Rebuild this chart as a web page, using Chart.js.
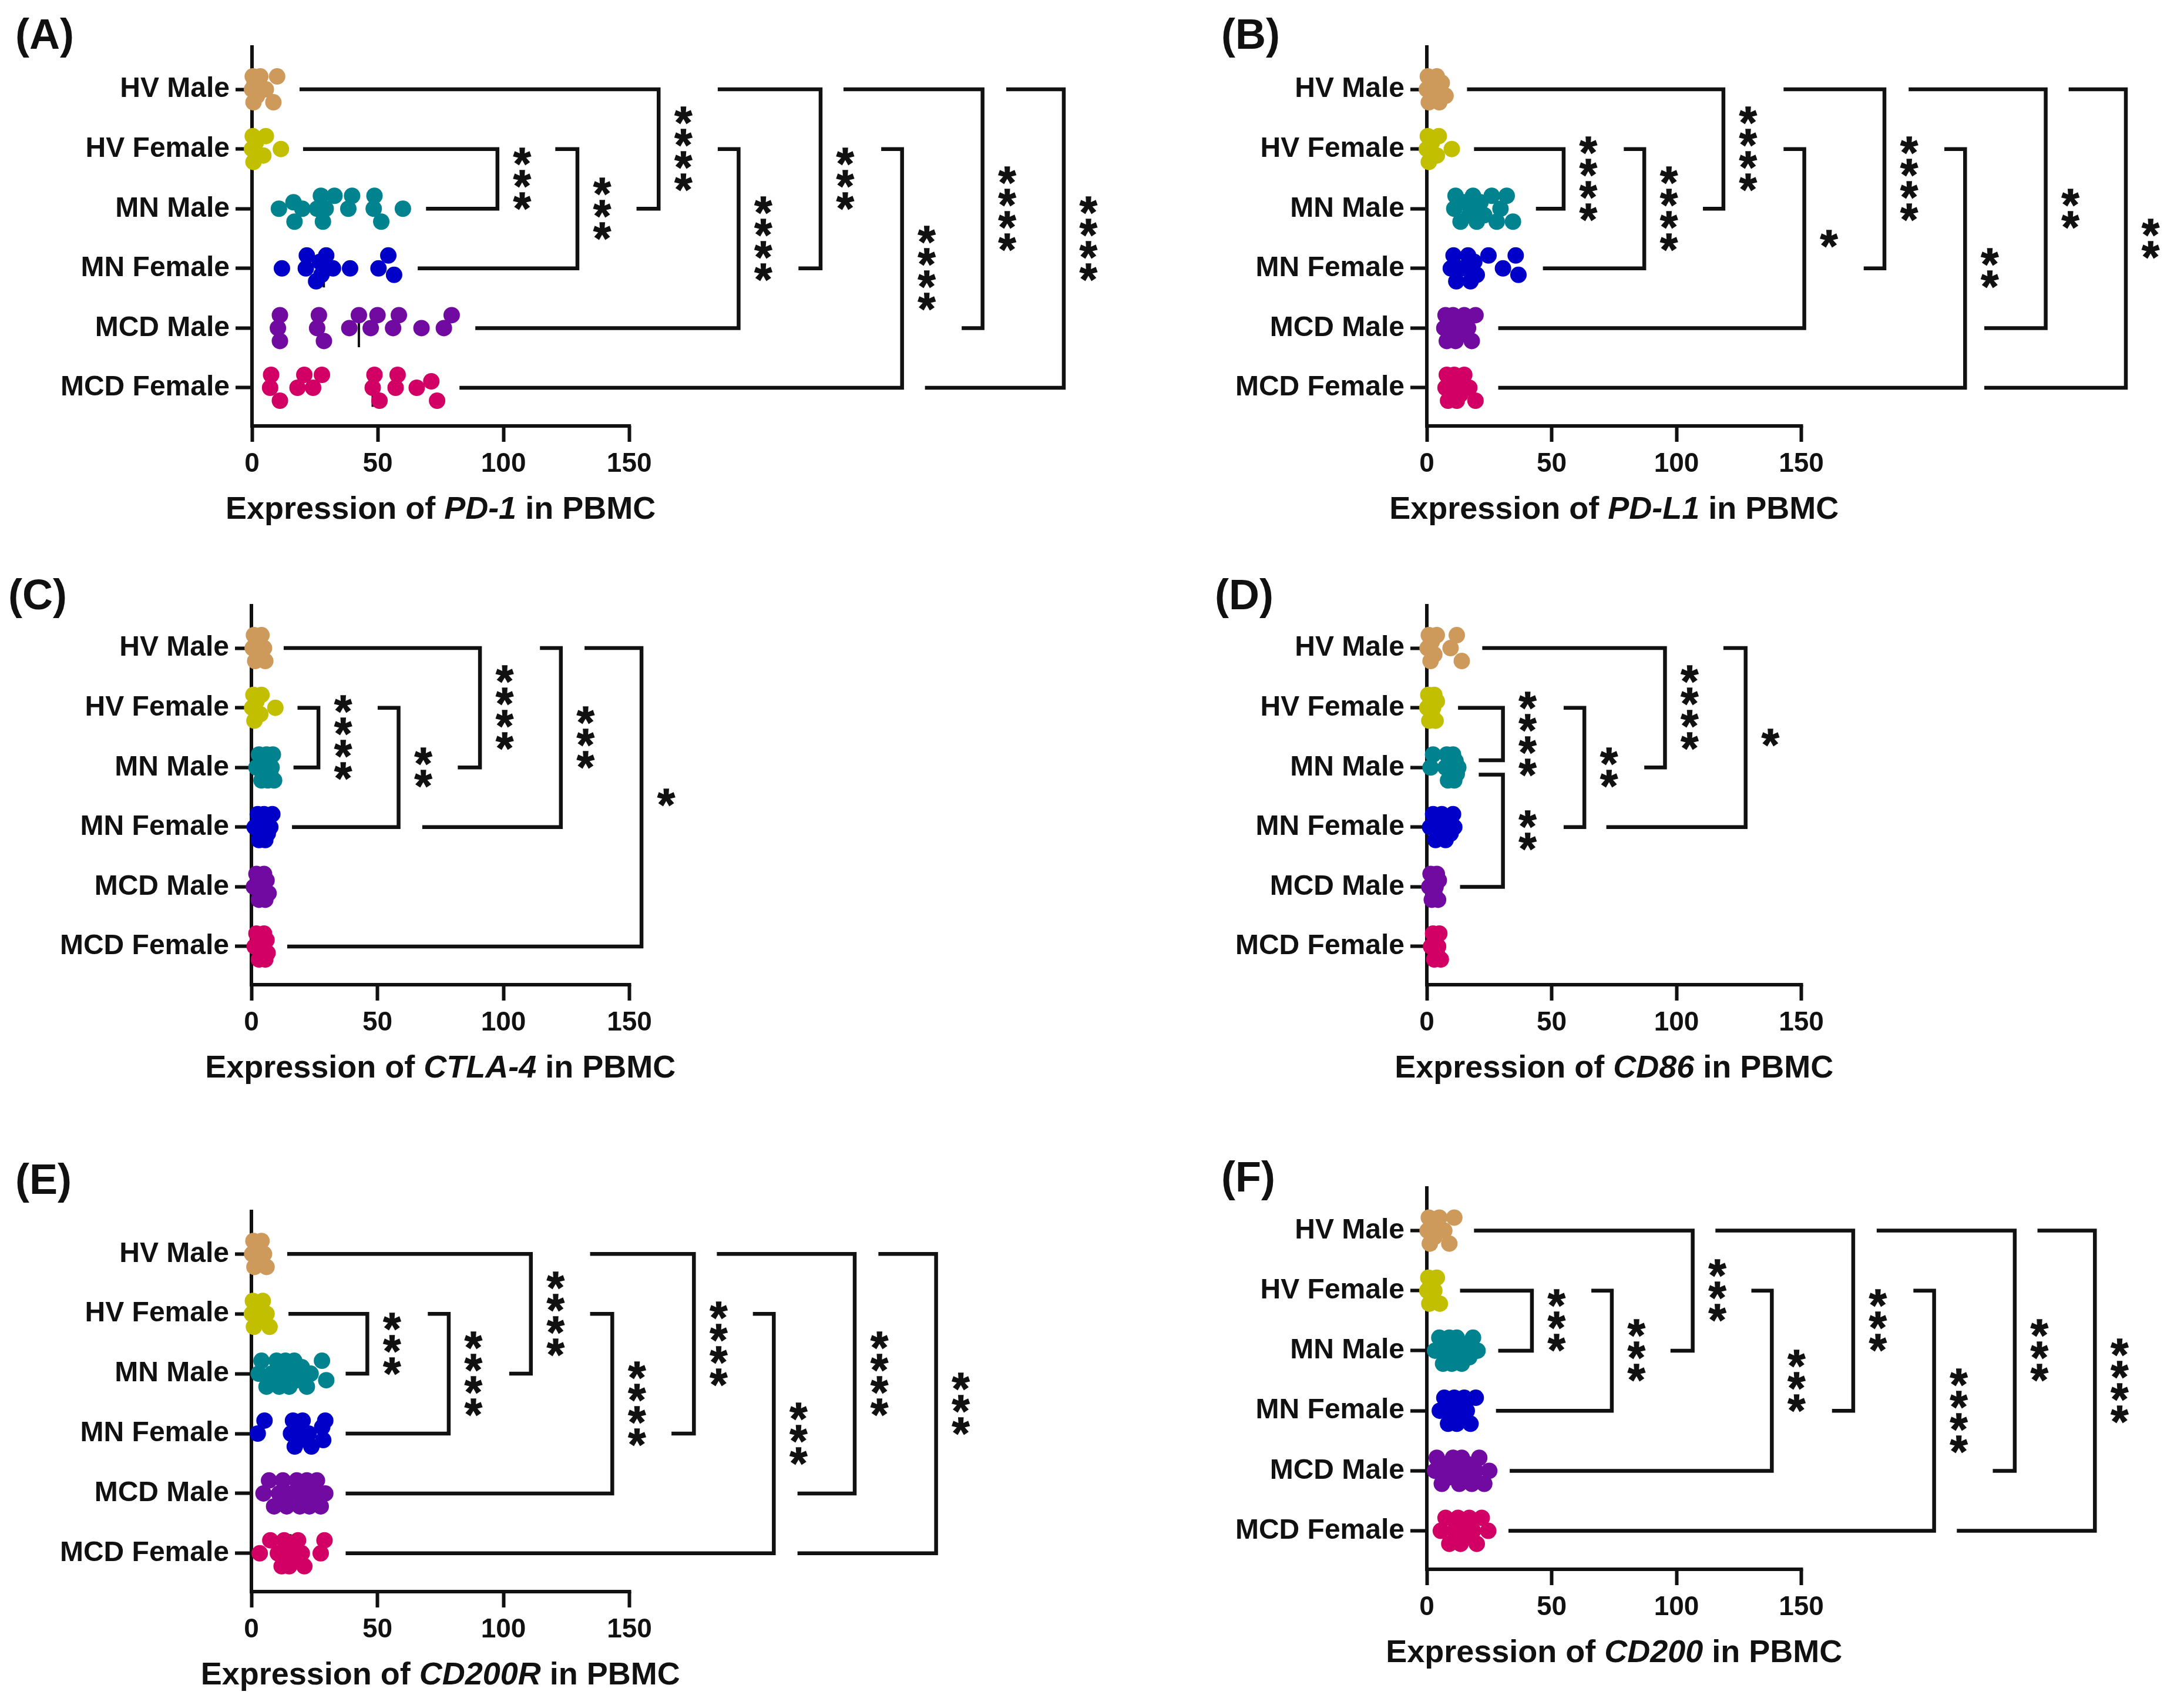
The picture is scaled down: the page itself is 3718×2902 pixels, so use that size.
<!DOCTYPE html>
<html>
<head>
<meta charset="utf-8">
<script src="https://cdn.jsdelivr.net/npm/chart.js@4.4.1/dist/chart.umd.min.js"></script>
<style>
  html, body { margin: 0; padding: 0; background: #fff; }
  body { position: relative; width: 3718px; height: 2902px; overflow: hidden; }
  canvas { position: absolute; }
</style>
</head>
<body>
<script>
// groups shown on every y axis (top to bottom)
const groups = ["HV Male", "HV Female", "MN Male", "MN Female", "MCD Male", "MCD Female"];
const groupColors = ["#CD9A5B", "#C2BE00", "#00828F", "#0000C8", "#700AA0", "#D20064"];
const xTicks = [0, 50, 100, 150];

// Expression values per group
const pd1Values = [
  [0, 0.3, 0.6, 1, 2, 3.3, 5.5, 8.5, 10],
  [0, 0.3, 0.6, 1.5, 4.5, 5.5, 11.5],
  [10.7, 16.5, 16.9, 20.0, 25.9, 27.4, 28.2, 29.3, 32.8, 38.3, 39.8, 48.4, 48.7, 51.4, 60.0],
  [11.9, 21.4, 21.8, 25.5, 27, 27.6, 29.5, 32.2, 39, 50.3, 54.2, 56.5],
  [10.3, 11.1, 11.1, 25.9, 26.6, 28.6, 38.7, 42.5, 47.2, 49.9, 56.1, 58.4, 67.4, 76.3, 79.4],
  [7.2, 7.6, 11.1, 18.1, 20.8, 24.3, 27.8, 48.0, 48.7, 50.7, 57.1, 57.9, 65.5, 71.3, 73.6]
];
const pdl1Values = [
  [0, 0.4, 0.8, 1.5, 2, 3, 4, 5, 6, 7.5],
  [0, 0.4, 0.8, 2, 4, 4.8, 10],
  [11, 11.5, 13.5, 15, 17, 18.5, 19.5, 20, 21.5, 23, 26, 28, 29.5, 32, 34.5],
  [9.6, 10.7, 11.8, 14, 16.5, 17.5, 18.1, 19, 20, 24.7, 30.5, 35.6, 36.7],
  [7, 7.5, 8, 8.5, 9.5, 10.5, 11, 11.5, 12.5, 13.5, 15, 16.5, 18, 19.5],
  [7.5, 8, 8.5, 9.5, 10, 11, 11.5, 12, 12.5, 13.5, 15, 17, 19.5]
];
const ctla4Values = [
  [0.5, 1, 1.5, 2, 3, 4, 5, 5.5],
  [0.3, 0.8, 1.2, 2, 3.5, 4, 9.5],
  [2, 3, 4, 4.5, 5, 5.5, 6, 6.5, 7, 7.5, 8, 8.5, 9],
  [1.3, 2.5, 3, 3.5, 4, 4.5, 5, 5.5, 6, 6.5, 7.5, 8.3],
  [1, 2, 3, 3.5, 4, 4.5, 5, 5.5, 6, 6.8],
  [1.3, 2, 3, 3.5, 4, 4.5, 5, 5.5, 6, 6.4]
];
const cd86Values = [
  [0.3, 0.8, 1.5, 2, 3, 4, 9.5, 12, 14],
  [0.2, 0.6, 1, 1.5, 2, 2.5, 3, 3.5, 4],
  [1.5, 2.5, 7.5, 8, 8.5, 9, 9.5, 10, 10.5, 11, 11.5, 12, 12.6],
  [1.3, 2.5, 3.5, 4.5, 5.5, 6, 7, 7.5, 8.5, 9.5, 10.5, 11],
  [1, 1.5, 2, 2.5, 3, 3.5, 4, 4.5, 4.8],
  [1.7, 2.5, 3, 3.5, 4, 4.5, 5, 5.6]
];
const cd200rValues = [
  [0.3, 0.8, 1.2, 2, 3, 4, 5, 6],
  [0.2, 0.6, 1, 1.5, 2.5, 4.5, 6, 7.2],
  [2.9, 4, 6, 8, 10, 11, 12, 13.5, 15, 15.7, 17, 18, 20, 22, 23.5, 28, 29.7],
  [2.5, 5.2, 15.7, 16.5, 17.2, 18.5, 19.2, 20.3, 22.7, 23.8, 28.1, 28.5, 29.3],
  [4.8, 7, 9, 11, 12.5, 14, 16, 18, 19.2, 20.5, 22, 23, 24.5, 26, 27.5, 29.3],
  [3.3, 7.5, 10.5, 12, 13, 14, 15, 16, 17, 18.5, 20, 21, 27.5, 29]
];
const cd200Values = [
  [0.3, 0.8, 1.2, 2, 3, 5, 7, 9, 11],
  [0.2, 0.6, 1, 1.5, 2, 3, 4, 5.2],
  [3.3, 5, 6.5, 8, 9, 10, 11, 11.4, 12, 13, 14, 15.5, 17, 18.5, 20.3],
  [5.2, 7, 8.5, 10, 11, 12, 13, 14, 15, 16, 17.5, 19.6],
  [3.3, 4, 6, 7.5, 9, 10.5, 12, 13, 14, 15, 16.5, 18, 19.5, 21, 23, 25],
  [5.6, 7.5, 9, 11, 12.5, 13.5, 14.5, 15, 16, 17, 18.5, 20, 22, 24.6]
];

// pairwise comparisons: [group a, group b, significance]
const pd1Tests = [[1, 2, "***"], [1, 3, "***"], [0, 2, "****"], [1, 4, "****"], [0, 3, "***"], [1, 5, "****"], [0, 4, "****"], [0, 5, "****"]];
const pdl1Tests = [[1, 2, "****"], [1, 3, "****"], [0, 2, "****"], [1, 4, "*"], [0, 3, "****"], [1, 5, "**"], [0, 4, "**"], [0, 5, "**"]];
const ctla4Tests = [[1, 2, "****"], [1, 3, "**"], [0, 2, "****"], [0, 3, "***"], [0, 5, "*"]];
const cd86Tests = [[1, 2, "****"], [2, 4, "**"], [1, 3, "**"], [0, 2, "****"], [0, 3, "*"]];
const cd200rTests = [[1, 2, "***"], [1, 3, "****"], [0, 2, "****"], [1, 4, "****"], [0, 3, "****"], [1, 5, "***"], [0, 4, "****"], [0, 5, "***"]];
const cd200Tests = [[1, 2, "***"], [1, 3, "***"], [0, 2, "***"], [1, 4, "***"], [0, 3, "***"], [1, 5, "****"], [0, 4, "***"], [0, 5, "****"]];

// bracket geometry (layout only, x in axis units): [vertical x, arm a start, arm b start, dy a, dy b]
const pd1Brackets = [[97.6, 20.3, 69.2], [129.4, 120.6, 65.9], [161.7, 18.9, 152.9], [193.5, 185.2, 88.8], [226.1, 185.2, 217.3], [258.5, 250.2, 82.5], [290.5, 235.2, 282.2], [322.8, 299.9, 267.6]];
const pdl1Brackets = [[54.8, 18.9, 43.7], [87.1, 78.9, 46.5], [118.8, 16.1, 110.6], [151.2, 142.9, 28.6], [183.3, 142.9, 175.0], [215.6, 207.3, 28.6], [247.9, 193.0, 223.3], [280.0, 257.1, 223.3]];
const ctla4Brackets = [[26.6, 18.3, 16.7], [58.4, 50.1, 16.1], [90.7, 12.8, 81.9], [122.8, 114.5, 67.8], [154.8, 132.2, 14.2]];
const cd86Brackets = [[30.5, 12.5, 20.8, 0, -0.12], [30.5, 20.8, 13.3, 0.12, 0], [63.1, 54.8, 54.8], [95.4, 22.2, 87.1], [127.7, 118.8, 71.9]];
const cd200rBrackets = [[46.0, 14.7, 37.4], [78.3, 70.0, 37.4], [110.9, 14.2, 102.3], [143.2, 134.4, 37.4], [175.6, 134.4, 166.7], [207.3, 199.0, 37.4], [239.4, 184.7, 216.7], [271.7, 248.8, 216.7]];
const cd200Brackets = [[42.1, 13.3, 28.6], [74.1, 65.9, 27.7], [106.5, 18.9, 97.6], [138.2, 130.0, 33.2], [170.8, 115.6, 162.3], [203.2, 194.9, 32.7], [235.5, 180.2, 226.7], [267.6, 244.6, 212.3]];

const FONT = '"Liberation Sans", Arial, Helvetica, sans-serif';
const PXU = 4.29;              // pixels per x unit
const Y_MIN = -0.71, Y_MAX = 5.64;
const Y_AXIS_W = 420;
const INK = "#111";

const panels = [
  { tag: "(A)", gene: "PD-1", values: pd1Values, tests: pd1Tests, brackets: pd1Brackets,
    left: 0, top: 0, w: 1920, h: 940, zero: 429, top0: 80, bottom: 725, xMax: 345, tagX: 26, tagY: 64 },
  { tag: "(B)", gene: "PD-L1", values: pdl1Values, tests: pdl1Tests, brackets: pdl1Brackets,
    left: 1860, top: 0, w: 1858, h: 940, zero: 569, top0: 80, bottom: 725, xMax: 300, tagX: 219, tagY: 64 },
  { tag: "(C)", gene: "CTLA-4", values: ctla4Values, tests: ctla4Tests, brackets: ctla4Brackets,
    left: 0, top: 940, w: 1860, h: 940, zero: 428, top0: 91, bottom: 736, xMax: 300, tagX: 14, tagY: 78 },
  { tag: "(D)", gene: "CD86", values: cd86Values, tests: cd86Tests, brackets: cd86Brackets,
    left: 1860, top: 940, w: 1858, h: 940, zero: 569, top0: 91, bottom: 736, xMax: 300, tagX: 208, tagY: 78 },
  { tag: "(E)", gene: "CD200R", values: cd200rValues, tests: cd200rTests, brackets: cd200rBrackets,
    left: 0, top: 1880, w: 1860, h: 1022, zero: 428, top0: 182, bottom: 829, xMax: 300, tagX: 26, tagY: 133 },
  { tag: "(F)", gene: "CD200", values: cd200Values, tests: cd200Tests, brackets: cd200Brackets,
    left: 1860, top: 1880, w: 1858, h: 1022, zero: 569, top0: 142, bottom: 791, xMax: 300, tagX: 219, tagY: 129 }
];

function median(a) {
  const s = [...a].sort((p, q) => p - q);
  const n = s.length;
  return n % 2 ? s[(n - 1) / 2] : (s[n / 2 - 1] + s[n / 2]) / 2;
}

// simple beeswarm: vertical offsets (in row units) so dots don't pile up
function swarm(vals) {
  const rowPx = 645 / (Y_MAX - Y_MIN);
  const step = 11, minD = 25;
  const placed = [];
  const out = new Array(vals.length);
  const idx = vals.map((v, i) => i).sort((a, b) => vals[a] - vals[b]);
  idx.forEach(i => {
    const x = vals[i] * PXU;
    let best = 0, bestD = -1;
    for (const k of [0, -1, 1, -2, 2]) {
      let d = Infinity;
      placed.forEach(p => { d = Math.min(d, Math.hypot(p.x - x, p.y - k * step)); });
      if (d >= minD) { best = k; bestD = d; break; }
      if (d > bestD) { bestD = d; best = k; }
    }
    placed.push({ x: x, y: best * step });
    out[i] = best * step / rowPx;
  });
  return out;
}

function centeredText(ctx, text, x, yc) {
  const m = ctx.measureText(text);
  ctx.fillText(text, x, yc + (m.actualBoundingBoxAscent - m.actualBoundingBoxDescent) / 2);
}

let starSize = null;
function drawStars(ctx, x, yc, n) {
  if (!starSize) {
    ctx.font = "bold 100px " + FONT;
    const m = ctx.measureText("*");
    starSize = 100 * 29 / (m.actualBoundingBoxAscent + m.actualBoundingBoxDescent);
  }
  ctx.font = "bold " + starSize.toFixed(1) + "px " + FONT;
  ctx.textAlign = "center";
  ctx.textBaseline = "alphabetic";
  ctx.lineWidth = 1.5;
  for (let i = 0; i < n; i++) {
    const y = yc + (i - (n - 1) / 2) * 38;
    const m = ctx.measureText("*");
    const by = y + (m.actualBoundingBoxAscent - m.actualBoundingBoxDescent) / 2;
    ctx.fillText("*", x, by);
    ctx.strokeText("*", x, by);
  }
}

function makePanel(p) {
  const canvas = document.createElement("canvas");
  canvas.width = p.w;
  canvas.height = p.h;
  canvas.style.left = p.left + "px";
  canvas.style.top = p.top + "px";
  canvas.style.width = p.w + "px";
  canvas.style.height = p.h + "px";
  document.body.appendChild(canvas);

  const datasets = [];
  p.values.forEach((vals, i) => {
    const offs = swarm(vals);
    datasets.push({
      data: vals.map((v, k) => ({ x: v, y: i + offs[k] })),
      backgroundColor: groupColors[i],
      borderWidth: 0,
      pointRadius: 14,
      pointHoverRadius: 14,
      clip: false,
      order: 1
    });
    const m = median(vals);
    datasets.push({
      data: [{ x: m, y: i - 0.32 }, { x: m, y: i + 0.32 }],
      showLine: true,
      borderColor: INK,
      borderWidth: 4,
      pointRadius: 0,
      clip: false,
      order: 2
    });
  });

  const annotations = {
    id: "annotations",
    beforeDatasetsDraw(chart) {
      const ctx = chart.ctx, xs = chart.scales.x, ca = chart.chartArea;
      ctx.save();
      ctx.strokeStyle = INK;
      ctx.lineWidth = 6;
      ctx.beginPath();
      ctx.moveTo(xs.getPixelForValue(0) - 3, ca.bottom);
      ctx.lineTo(xs.getPixelForValue(150) + 3, ca.bottom);
      ctx.stroke();
      ctx.restore();
    },
    afterDraw(chart) {
      const ctx = chart.ctx, xs = chart.scales.x, ys = chart.scales.y, ca = chart.chartArea;
      ctx.save();
      ctx.strokeStyle = INK;
      ctx.fillStyle = INK;
      ctx.lineJoin = "miter";
      ctx.lineCap = "butt";
      p.tests.forEach((t, k) => {
        const g = p.brackets[k];
        const ya = ys.getPixelForValue(t[0] + (g[3] || 0));
        const yb = ys.getPixelForValue(t[1] + (g[4] || 0));
        const xv = xs.getPixelForValue(g[0]);
        ctx.lineWidth = 6.5;
        ctx.beginPath();
        ctx.moveTo(xs.getPixelForValue(g[1]), ya);
        ctx.lineTo(xv, ya);
        ctx.lineTo(xv, yb);
        ctx.lineTo(xs.getPixelForValue(g[2]), yb);
        ctx.stroke();
        drawStars(ctx, xv + 42, (ya + yb) / 2, t[2].length);
      });

      // x axis title with italic gene name
      const parts = [["Expression of ", false], [p.gene, true], [" in PBMC", false]];
      const fontOf = it => (it ? "italic " : "") + "bold 54px " + FONT;
      let total = 0;
      parts.forEach(s => { ctx.font = fontOf(s[1]); total += ctx.measureText(s[0]).width; });
      let x = xs.getPixelForValue(75) - total / 2;
      const yT = ca.bottom + 143;
      ctx.textAlign = "left";
      ctx.textBaseline = "middle";
      parts.forEach(s => {
        ctx.font = fontOf(s[1]);
        ctx.fillText(s[0], x, yT);
        x += ctx.measureText(s[0]).width;
      });

      // panel tag
      ctx.font = "bold 72px " + FONT;
      ctx.textBaseline = "alphabetic";
      centeredText(ctx, p.tag, p.tagX, p.tagY);
      ctx.restore();
    }
  };

  new Chart(canvas, {
    type: "scatter",
    data: { datasets: datasets },
    options: {
      responsive: false,
      devicePixelRatio: 1,
      animation: false,
      events: [],
      layout: {
        padding: {
          left: p.zero - Y_AXIS_W,
          right: p.w - (p.zero + p.xMax * PXU),
          top: p.top0,
          bottom: 0
        }
      },
      plugins: { legend: { display: false }, tooltip: { enabled: false } },
      scales: {
        x: {
          type: "linear",
          min: 0,
          max: p.xMax,
          afterFit: s => { s.height = p.h - p.bottom; },
          afterBuildTicks: s => { s.ticks = xTicks.map(v => ({ value: v })); },
          border: { display: false },
          grid: { display: true, drawOnChartArea: false, drawTicks: true, tickLength: 27, tickWidth: 6, tickColor: INK },
          ticks: { font: { family: FONT, size: 46, weight: "bold" }, color: INK, padding: 11, maxRotation: 0, autoSkip: false }
        },
        y: {
          type: "linear",
          reverse: true,
          min: Y_MIN,
          max: Y_MAX,
          afterFit: s => { s.width = Y_AXIS_W; },
          afterBuildTicks: s => { s.ticks = groups.map((g, i) => ({ value: i })); },
          border: { display: true, color: INK, width: 6 },
          grid: { display: true, drawOnChartArea: false, drawTicks: true, tickLength: 28, tickWidth: 6, tickColor: INK },
          ticks: { font: { family: FONT, size: 48, weight: "bold" }, color: INK, padding: 10, autoSkip: false,
                   callback: v => groups[v] }
        }
      }
    },
    plugins: [annotations]
  });
}

panels.forEach(makePanel);
</script>
</body>
</html>
